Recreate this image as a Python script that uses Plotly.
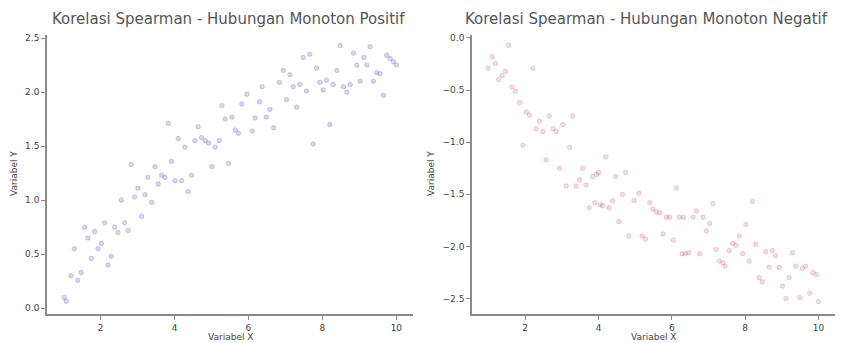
import plotly.graph_objects as go

# Positive monotone relation
pos_x = [1.02, 1.07, 1.20, 1.29, 1.38, 1.47, 1.57, 1.66, 1.75, 1.84, 1.93, 2.02, 2.11, 2.20, 2.29,
         2.38, 2.47, 2.56, 2.65, 2.74, 2.83, 2.92, 3.01, 3.11, 3.20, 3.28, 3.38, 3.47, 3.56, 3.65,
         3.74, 3.83, 3.92, 4.01, 4.10, 4.19, 4.28, 4.37, 4.46, 4.55, 4.64, 4.73, 4.83, 4.92, 5.01,
         5.10, 5.21, 5.28, 5.37, 5.46, 5.55, 5.64, 5.73, 5.82, 5.96, 6.10, 6.18, 6.30, 6.37, 6.48,
         6.58, 6.68, 6.84, 6.94, 7.03, 7.12, 7.21, 7.30, 7.39, 7.48, 7.57, 7.66, 7.75, 7.84, 7.93,
         8.02, 8.11, 8.20, 8.29, 8.39, 8.48, 8.57, 8.66, 8.75, 8.84, 8.93, 9.02, 9.12, 9.20, 9.29,
         9.38, 9.47, 9.56, 9.65, 9.74, 9.83, 9.92, 10.00]
pos_y = [0.10, 0.065, 0.30, 0.55, 0.26, 0.33, 0.75, 0.65, 0.46, 0.71, 0.55, 0.60, 0.79, 0.40, 0.48,
         0.75, 0.70, 1.00, 0.79, 0.72, 1.33, 1.03, 1.11, 0.85, 1.05, 1.21, 0.98, 1.31, 1.15, 1.23,
         1.21, 1.71, 1.36, 1.18, 1.57, 1.18, 1.49, 1.08, 1.23, 1.55, 1.68, 1.58, 1.55, 1.53, 1.31,
         1.49, 1.55, 1.875, 1.75, 1.34, 1.77, 1.65, 1.62, 1.89, 1.98, 1.64, 1.76, 1.91, 2.05, 1.77,
         1.84, 1.67, 2.09, 2.20, 1.93, 2.16, 2.05, 1.86, 2.07, 2.32, 2.01, 2.35, 1.52, 2.22, 2.09,
         2.02, 2.11, 1.70, 2.07, 2.20, 2.43, 2.05, 2.00, 2.07, 2.36, 2.25, 2.10, 2.32, 2.25, 2.42,
         2.10, 2.18, 2.17, 1.97, 2.34, 2.31, 2.28, 2.25]

# Negative monotone relation
neg_x = [0.99, 1.10, 1.19, 1.28, 1.37, 1.46, 1.55, 1.64, 1.73, 1.85, 1.94, 2.03, 2.12, 2.21, 2.30,
         2.39, 2.48, 2.57, 2.66, 2.76, 2.85, 2.94, 3.03, 3.12, 3.21, 3.30, 3.39, 3.48, 3.57, 3.66,
         3.75, 3.84, 3.90, 3.95, 4.00, 4.05, 4.11, 4.20, 4.29, 4.38, 4.47, 4.56, 4.65, 4.74, 4.83,
         4.97, 5.10, 5.19, 5.28, 5.40, 5.49, 5.58, 5.67, 5.76, 5.85, 5.94, 6.04, 6.12, 6.21, 6.28,
         6.31, 6.37, 6.46, 6.58, 6.67, 6.76, 6.85, 6.94, 7.03, 7.12, 7.21, 7.30, 7.39, 7.45, 7.57,
         7.66, 7.75, 7.84, 7.93, 8.02, 8.11, 8.20, 8.29, 8.38, 8.47, 8.56, 8.65, 8.74, 8.83, 8.93,
         9.02, 9.11, 9.20, 9.29, 9.38, 9.49, 9.56, 9.65, 9.76, 9.85, 9.94, 10.00]
neg_y = [-0.29, -0.18, -0.245, -0.40, -0.36, -0.32, -0.07, -0.47, -0.51, -0.62, -1.03, -0.71, -0.74, -0.29, -0.87,
         -0.80, -0.90, -1.17, -0.75, -0.87, -0.90, -1.25, -0.83, -1.42, -1.05, -0.75, -1.42, -1.36, -1.25, -1.41,
         -1.63, -1.33, -1.58, -1.31, -1.29, -1.60, -1.61, -1.14, -1.63, -1.56, -1.33, -1.76, -1.50, -1.29, -1.90,
         -1.56, -1.49, -1.90, -1.93, -1.58, -1.64, -1.67, -1.68, -1.88, -1.72, -1.72, -1.94, -1.44, -1.72, -2.07,
         -1.72, -2.07, -2.06, -1.72, -1.66, -2.07, -1.72, -1.85, -1.78, -1.59, -2.03, -2.14, -2.16, -2.19, -2.04,
         -1.97, -1.99, -1.90, -2.07, -1.79, -2.14, -1.57, -1.98, -2.30, -2.34, -2.05, -2.20, -2.04, -2.09, -2.20,
         -2.38, -2.50, -2.30, -2.06, -2.19, -2.49, -2.21, -2.19, -2.45, -2.25, -2.27, -2.53]

titles = ["Korelasi Spearman - Hubungan Monoton Positif", "Korelasi Spearman - Hubungan Monoton Negatif"]
x_label = "Variabel X"
y_label = "Variabel Y"

W, H = 845, 343
FONT = "DejaVu Sans"
AXC = "#8a8a8a"
TXT = "#444444"

fig = go.Figure()
fig.add_trace(go.Scatter(
    x=pos_x, y=pos_y, mode="markers", xaxis="x", yaxis="y", showlegend=False,
    marker=dict(size=4.5, color="rgba(120,120,240,0.30)", line=dict(width=0.6, color="rgba(80,80,140,0.40)"))))
fig.add_trace(go.Scatter(
    x=neg_x, y=neg_y, mode="markers", xaxis="x2", yaxis="y2", showlegend=False,
    marker=dict(size=4.5, color="rgba(245,120,130,0.28)", line=dict(width=0.6, color="rgba(150,100,110,0.38)"))))

ydom = [(H - 314) / H, (H - 33) / H]
common_axis = dict(showgrid=False, zeroline=False, showline=True, linecolor=AXC, linewidth=1.5,
                   ticks="outside", ticklen=4, tickcolor=AXC, tickwidth=1,
                   tickfont=dict(family=FONT, size=9, color=TXT), mirror=False)

fig.update_layout(
    width=W, height=H, margin=dict(l=0, r=0, t=0, b=0),
    paper_bgcolor="white", plot_bgcolor="white",
    font=dict(family=FONT, color=TXT),
    xaxis=dict(domain=[47 / W, 413 / W], range=[0.55, 10.45], tickvals=[2, 4, 6, 8, 10],
               anchor="y", **common_axis),
    yaxis=dict(domain=ydom, range=[-0.055, 2.53], tickvals=[0, 0.5, 1.0, 1.5, 2.0, 2.5],
               tickformat=".1f", anchor="x", **common_axis),
    xaxis2=dict(domain=[472 / W, 835 / W], range=[0.55, 10.45], tickvals=[2, 4, 6, 8, 10],
                anchor="y2", **common_axis),
    yaxis2=dict(domain=ydom, range=[-2.65, 0.03], tickvals=[0, -0.5, -1.0, -1.5, -2.0, -2.5],
                tickformat=".1f", anchor="x2", **common_axis),
)

ann = []
for i, cx in enumerate([228, 646]):
    ann.append(dict(text=titles[i], x=cx / W, y=1 - 17 / H, xref="paper", yref="paper",
                    xanchor="center", yanchor="middle", showarrow=False,
                    font=dict(family=FONT, size=15, color="#555555")))
for cx in [230, 653]:
    ann.append(dict(text=x_label, x=cx / W, y=1 - 337 / H, xref="paper", yref="paper",
                    xanchor="center", yanchor="middle", showarrow=False,
                    font=dict(family=FONT, size=9, color=TXT)))
for cx in [14, 431]:
    ann.append(dict(text=y_label, x=cx / W, y=1 - 173 / H, xref="paper", yref="paper",
                    xanchor="center", yanchor="middle", showarrow=False, textangle=-90,
                    font=dict(family=FONT, size=9, color=TXT)))
fig.update_layout(annotations=ann)

fig.write_html("out.html")
